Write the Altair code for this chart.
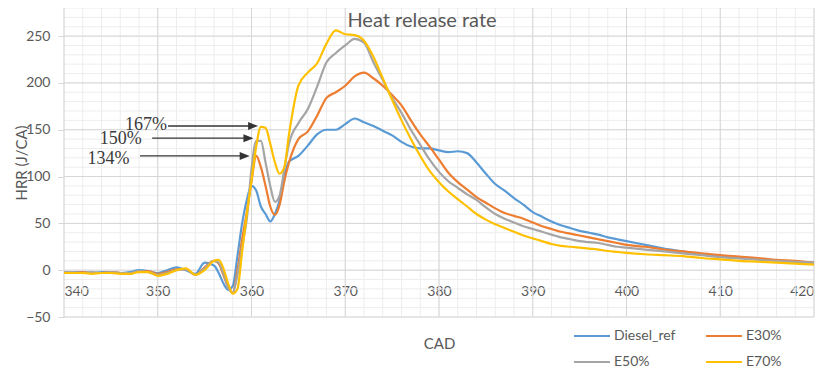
import altair as alt
import pandas as pd

CAD = [340, 341, 342, 343, 344, 345, 346, 347, 348, 349, 350, 351, 352, 353, 354, 355, 356,
       356.5, 357, 357.5, 358, 358.5, 359, 359.5, 360, 360.5, 361, 361.5, 362, 362.5, 363, 363.5,
       364, 365, 366, 367, 368, 369, 370, 371, 372, 373, 374, 375, 376, 377, 378, 379, 380,
       381, 382, 383, 384, 385, 386, 387, 388, 389, 390, 391, 392, 393, 394, 395, 396, 397,
       398, 399, 400, 402, 404, 406, 408, 410, 412, 414, 416, 418, 420]

DIESEL = [-2, -2, -2, -3, -2, -2, -3, -2, 0, -1, -3, 0, 3, 0, -4, 8, 5,
          -3, -14, -21, -17, 15, 50, 75, 90, 85, 68, 60, 52, 60, 75, 100,
          116, 122, 133, 145, 150, 150, 156, 162, 158, 154, 149, 144, 137, 132, 130, 130, 128,
          126, 127, 125, 115, 103, 92, 85, 77, 70, 62, 57, 52, 48, 45, 42, 40, 38,
          35, 33, 31, 27, 23, 20, 17, 15, 13.5, 12, 10.5, 9, 8]

E30 = [-2, -3, -2, -3, -3, -2, -3, -4, -1, -1, -4, -2, 1, 1, -5, 3, 10,
       7, -5, -18, -24, 0, 33, 62, 95, 122, 110, 90, 68, 59, 70, 95,
       115, 140, 148, 165, 184, 190, 197, 207, 211, 205, 197, 187, 176, 160, 145, 132, 118,
       104, 94, 86, 78, 72, 66, 61, 58, 55, 51, 47, 44, 41, 39, 37, 35, 33,
       31, 29, 27, 25, 22, 20, 18, 16, 14.5, 13, 11, 10, 8]

E50 = [-2, -2, -3, -2, -3, -2, -3, -3, -1, -2, -5, -3, 0, 1, -5, 2, 10,
       8, -3, -18, -24, -5, 25, 55, 108, 138, 138, 115, 90, 73, 80, 108,
       135, 157, 172, 196, 222, 232, 240, 247, 243, 222, 203, 184, 168, 150, 134, 118, 105,
       95, 88, 81, 75, 67, 60, 55, 51, 47, 44, 41, 38, 35, 33, 31, 30, 29,
       27, 25, 24, 22, 20, 18, 16, 14, 12.5, 11, 10, 9, 8]

E70 = [-3, -3, -3, -4, -3, -3, -4, -4, -2, -2, -6, -4, 0, 2, -5, 0, 10,
       11, 2, -14, -25, -20, 20, 60, 96, 132, 153, 152, 135, 115, 103, 110,
       145, 197, 211, 221, 242, 256, 252, 251, 245, 228, 205, 182, 160, 140, 122, 106, 94,
       84, 76, 68, 60, 54, 49, 45, 41, 37, 34, 31, 28, 26, 25, 24, 23, 22,
       20.5, 19.5, 18.5, 17, 16, 15, 13, 11.5, 10, 9, 8, 7, 6]

SERIES = ["Diesel_ref", "E30%", "E50%", "E70%"]
COLORS = ["#5b9bd5", "#ed7d31", "#a5a5a5", "#ffc000"]

ANN_TEXT = ["167%", "150%", "134%"]
ANN_TEXT_X = [346.5, 343.8, 342.5]
ANN_TEXT_Y = [155, 140, 118.5]
ARROW_X0 = [351.1, 349.4, 348.1]
ARROW_TIP = [360.7, 360.2, 359.8]
ARROW_Y = [154, 141, 122]

X_MAJOR = [340, 350, 360, 370, 380, 390, 400, 410, 420]
Y_MAJOR = [-50, 0, 50, 100, 150, 200, 250]
X_MINOR = list(range(340, 421, 2))
Y_MINOR = list(range(-50, 281, 10))

rows = []
for name, vals in zip(SERIES, [DIESEL, E30, E50, E70]):
    for c, v in zip(CAD, vals):
        rows.append({"CAD": c, "HRR": v, "Series": name})
df = pd.DataFrame(rows)

head_len = 0.53
ann = pd.DataFrame({
    "text": ANN_TEXT, "tx": ANN_TEXT_X, "ty": ANN_TEXT_Y,
    "x0": ARROW_X0, "x1": [t - head_len for t in ARROW_TIP], "ay": ARROW_Y,
})

xs = alt.Scale(domain=[340, 420], nice=False, zero=False)
ys = alt.Scale(domain=[-50, 280], nice=False, zero=False)

FONT = "Lato"
TXT = "#595959"

X_AX = alt.Axis(values=X_MAJOR, title="CAD", grid=False, offset=-47, domain=False,
                ticks=False, labelPadding=14, labelFont=FONT, labelFontSize=14,
                labelColor=TXT, titleFont=FONT, titleFontSize=15, titleColor=TXT,
                titleFontWeight="normal", titleX=375, titleY=73, titleBaseline="middle")
Y_AX = alt.Axis(values=Y_MAJOR, title="HRR (J/CA)", grid=False, domain=False,
                ticks=True, tickSize=6, tickColor="#d6d6d6", labelPadding=8,
                labelFont=FONT, labelFontSize=14, labelColor=TXT,
                titleFont=FONT, titleFontSize=15, titleColor=TXT,
                titleFontWeight="normal", titleX=-43, titleY=154.5,
                titleBaseline="middle", titleAlign="center", titleAngle=270)


def X(field):
    return alt.X(field, scale=xs, axis=X_AX, title="CAD")


def Y(field):
    return alt.Y(field, scale=ys, axis=Y_AX, title="HRR (J/CA)")


minor_x = alt.Chart(pd.DataFrame({"v": X_MINOR})).mark_rule(color="#ededed", strokeWidth=1).encode(
    x=X("v:Q"))
minor_y = alt.Chart(pd.DataFrame({"v": Y_MINOR})).mark_rule(color="#ededed", strokeWidth=1).encode(
    y=Y("v:Q"))
major_x = alt.Chart(pd.DataFrame({"v": X_MAJOR})).mark_rule(color="#d6d6d6", strokeWidth=1).encode(
    x=X("v:Q"))
major_y = alt.Chart(pd.DataFrame({"v": Y_MAJOR})).mark_rule(color="#d6d6d6", strokeWidth=1).encode(
    y=Y("v:Q"))

lines = alt.Chart(df).mark_line(strokeWidth=2.2, interpolate="monotone").encode(
    x=X("CAD:Q"),
    y=Y("HRR:Q"),
    color=alt.Color("Series:N", scale=alt.Scale(domain=SERIES, range=COLORS),
                    legend=alt.Legend(title=None, orient="none", legendX=509, legendY=309,
                                      direction="horizontal", columns=2, columnPadding=26,
                                      rowPadding=-12, symbolType="stroke", symbolSize=1296,
                                      symbolStrokeWidth=2, labelOffset=3, padding=0,
                                      labelFont=FONT, labelFontSize=14, labelColor=TXT)),
)

arrows = alt.Chart(ann).mark_rule(color="#333333", strokeWidth=1.3).encode(
    x=X("x0:Q"), x2="x1:Q", y=Y("ay:Q"))
heads = alt.Chart(ann).mark_point(shape="M-1,-0.8L1,0L-1,0.8Z", filled=True, size=100,
                                  color="#333333", opacity=1).encode(
    x=X("x1:Q"), y=Y("ay:Q"))
labels = alt.Chart(ann).mark_text(align="left", baseline="middle", font="Liberation Serif",
                                  fontSize=18, color="#3a3a3a").encode(
    x=X("tx:Q"), y=Y("ty:Q"), text="text:N")

chart = alt.layer(minor_x, minor_y, major_x, major_y, lines, arrows, heads, labels).properties(
    width=750, height=309,
    padding={"left": 56, "top": 0, "right": 4, "bottom": 52},
    autosize=alt.AutoSizeParams(type="none"),
    title=alt.TitleParams("Heat release rate", font=FONT, fontSize=20, color=TXT,
                          fontWeight="normal", anchor="middle", offset=-23, dx=-17),
).configure_view(stroke=None)

chart.save("out.html", embed_options={"renderer": "svg", "actions": False})
